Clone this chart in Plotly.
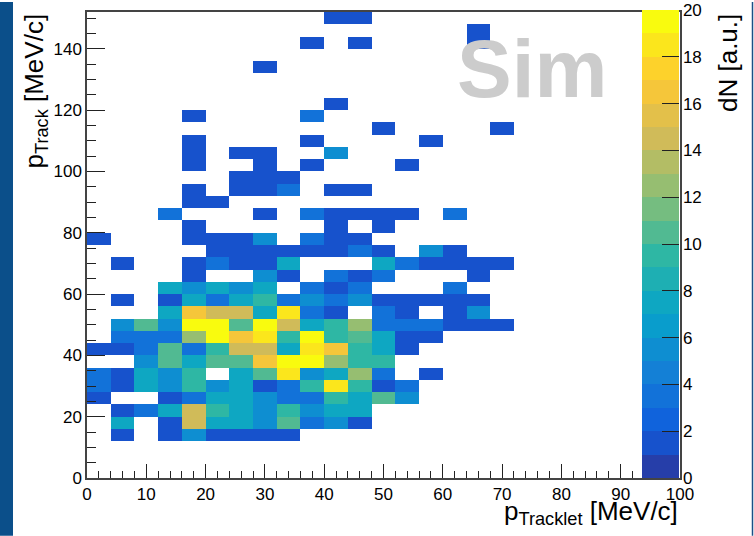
import numpy as np
import plotly.graph_objects as go

FONT = "Liberation Sans, Arial, Helvetica, sans-serif"
W, H = 754, 536
# plot frame in pixels: x 87..680, y 10..478
FL, FR, FT, FB = 87, 680, 10, 478


def px(xp):
    return (xp - FL) / (FR - FL)


def py(yp):
    return (FB - yp) / (FB - FT)


# bin edges in MeV/c
x_edges = list(range(0, 101, 4))    # p_Tracklet
y_edges = list(range(0, 153, 4))    # p_Track

# bin contents, first row = lowest p_Track bin; 0 = empty bin
counts = [
    [0, 0, 0, 0, 0, 0, 0, 0, 0, 0, 0, 0, 0, 0, 0, 0, 0, 0, 0, 0, 0, 0, 0, 0, 0],
    [0, 0, 0, 0, 0, 0, 0, 0, 0, 0, 0, 0, 0, 0, 0, 0, 0, 0, 0, 0, 0, 0, 0, 0, 0],
    [0, 0, 0, 0, 0, 0, 0, 0, 0, 0, 0, 0, 0, 0, 0, 0, 0, 0, 0, 0, 0, 0, 0, 0, 0],
    [0, 1, 0, 1, 5, 1, 1, 1, 1, 0, 0, 0, 0, 0, 0, 0, 0, 0, 0, 0, 0, 0, 0, 0, 0],
    [0, 7, 0, 1, 14, 7, 7, 5, 10, 3, 5, 1, 0, 0, 0, 0, 0, 0, 0, 0, 0, 0, 0, 0, 0],
    [0, 1, 3, 7, 14, 9, 7, 5, 9, 5, 7, 7, 0, 0, 0, 0, 0, 0, 0, 0, 0, 0, 0, 0, 0],
    [1, 0, 0, 1, 3, 7, 7, 5, 3, 3, 9, 7, 10, 5, 0, 0, 0, 0, 0, 0, 0, 0, 0, 0, 0],
    [3, 1, 7, 5, 9, 5, 7, 1, 3, 9, 18, 9, 1, 3, 0, 0, 0, 0, 0, 0, 0, 0, 0, 0, 0],
    [3, 1, 7, 5, 9, 0, 7, 10, 18, 5, 7, 12, 3, 0, 1, 0, 0, 0, 0, 0, 0, 0, 0, 0, 0],
    [0, 0, 5, 10, 7, 10, 10, 16, 19, 19, 12, 9, 9, 0, 0, 0, 0, 0, 0, 0, 0, 0, 0, 0, 0],
    [1, 1, 3, 10, 3, 9, 14, 14, 7, 18, 16, 9, 7, 1, 0, 0, 0, 0, 0, 0, 0, 0, 0, 0, 0],
    [0, 3, 3, 3, 12, 20, 16, 18, 9, 19, 9, 10, 7, 1, 1, 0, 0, 0, 0, 0, 0, 0, 0, 0, 0],
    [0, 5, 10, 5, 19, 19, 10, 19, 14, 7, 9, 12, 3, 3, 3, 1, 1, 1, 0, 0, 0, 0, 0, 0, 0],
    [0, 0, 0, 7, 16, 14, 14, 7, 18, 3, 1, 0, 3, 1, 0, 1, 5, 0, 0, 0, 0, 0, 0, 0, 0],
    [0, 1, 0, 1, 7, 3, 7, 9, 3, 5, 3, 5, 1, 1, 1, 1, 1, 0, 0, 0, 0, 0, 0, 0, 0],
    [0, 0, 0, 7, 5, 7, 5, 7, 0, 3, 1, 3, 0, 0, 0, 3, 0, 0, 0, 0, 0, 0, 0, 0, 0],
    [0, 0, 0, 0, 1, 0, 0, 5, 1, 0, 3, 1, 3, 0, 0, 0, 1, 0, 0, 0, 0, 0, 0, 0, 0],
    [0, 1, 0, 0, 1, 3, 1, 1, 7, 0, 0, 0, 7, 3, 1, 1, 1, 1, 0, 0, 0, 0, 0, 0, 0],
    [0, 0, 0, 0, 0, 1, 1, 1, 1, 1, 1, 3, 1, 0, 5, 1, 0, 0, 0, 0, 0, 0, 0, 0, 0],
    [1, 0, 0, 0, 1, 1, 1, 5, 0, 3, 1, 1, 0, 0, 0, 0, 0, 0, 0, 0, 0, 0, 0, 0, 0],
    [0, 0, 0, 0, 1, 0, 0, 0, 0, 0, 1, 0, 1, 0, 0, 0, 0, 0, 0, 0, 0, 0, 0, 0, 0],
    [0, 0, 0, 3, 0, 0, 0, 1, 0, 3, 1, 1, 1, 1, 0, 3, 0, 0, 0, 0, 0, 0, 0, 0, 0],
    [0, 0, 0, 0, 1, 1, 0, 0, 0, 0, 0, 0, 0, 0, 0, 0, 0, 0, 0, 0, 0, 0, 0, 0, 0],
    [0, 0, 0, 0, 1, 0, 1, 1, 3, 0, 1, 1, 0, 0, 0, 0, 0, 0, 0, 0, 0, 0, 0, 0, 0],
    [0, 0, 0, 0, 0, 0, 1, 1, 1, 0, 0, 0, 0, 0, 0, 0, 0, 0, 0, 0, 0, 0, 0, 0, 0],
    [0, 0, 0, 0, 1, 0, 0, 1, 0, 1, 0, 0, 0, 1, 0, 0, 0, 0, 0, 0, 0, 0, 0, 0, 0],
    [0, 0, 0, 0, 1, 0, 1, 1, 0, 0, 5, 0, 0, 0, 0, 0, 0, 0, 0, 0, 0, 0, 0, 0, 0],
    [0, 0, 0, 0, 1, 0, 0, 0, 0, 1, 0, 0, 0, 0, 1, 0, 0, 0, 0, 0, 0, 0, 0, 0, 0],
    [0, 0, 0, 0, 0, 0, 0, 0, 0, 0, 0, 0, 1, 0, 0, 0, 0, 1, 0, 0, 0, 0, 0, 0, 0],
    [0, 0, 0, 0, 1, 0, 0, 0, 0, 3, 0, 0, 0, 0, 0, 0, 0, 0, 0, 0, 0, 0, 0, 0, 0],
    [0, 0, 0, 0, 0, 0, 0, 0, 0, 0, 1, 0, 0, 0, 0, 0, 0, 0, 0, 0, 0, 0, 0, 0, 0],
    [0, 0, 0, 0, 0, 0, 0, 0, 0, 0, 0, 0, 0, 0, 0, 0, 0, 0, 0, 0, 0, 0, 0, 0, 0],
    [0, 0, 0, 0, 0, 0, 0, 0, 0, 0, 0, 0, 0, 0, 0, 0, 0, 0, 0, 0, 0, 0, 0, 0, 0],
    [0, 0, 0, 0, 0, 0, 0, 1, 0, 0, 0, 0, 0, 0, 0, 0, 0, 0, 0, 0, 0, 0, 0, 0, 0],
    [0, 0, 0, 0, 0, 0, 0, 0, 0, 0, 0, 0, 0, 0, 0, 0, 0, 0, 0, 0, 0, 0, 0, 0, 0],
    [0, 0, 0, 0, 0, 0, 0, 0, 0, 1, 0, 1, 0, 0, 0, 0, 1, 0, 0, 0, 0, 0, 0, 0, 0],
    [0, 0, 0, 0, 0, 0, 0, 0, 0, 0, 0, 0, 0, 0, 0, 0, 1, 0, 0, 0, 0, 0, 0, 0, 0],
    [0, 0, 0, 0, 0, 0, 0, 0, 0, 0, 1, 1, 0, 0, 0, 0, 0, 0, 0, 0, 0, 0, 0, 0, 0],
]

z_min, z_max = 0, 20
cbar_ticks = list(range(0, 21, 2))
x_ticks = list(range(0, 101, 10))
y_ticks = list(range(0, 141, 20))

# ROOT "bird" palette, cut into 20 discrete levels
bird_stops = [0.0, 0.125, 0.25, 0.375, 0.5, 0.625, 0.75, 0.875, 1.0]
bird_r = [0.2082, 0.0592, 0.0780, 0.0232, 0.1802, 0.5301, 0.8186, 0.9956, 0.9764]
bird_g = [0.1664, 0.3599, 0.5041, 0.6419, 0.7178, 0.7492, 0.7328, 0.7862, 0.9832]
bird_b = [0.5293, 0.8684, 0.8385, 0.7914, 0.6425, 0.4662, 0.3499, 0.1968, 0.0539]
n_levels = 20
colorscale = []
for i in range(n_levels):
    f = (i + 0.99) / n_levels
    rgb = [float(np.interp(f, bird_stops, ch)) for ch in (bird_r, bird_g, bird_b)]
    col = "rgb(%d,%d,%d)" % tuple(int(round(255 * v)) for v in rgb)
    lo = 0.0 if i == 0 else i / n_levels - 1e-4
    hi = 1.0 if i == n_levels - 1 else (i + 1) / n_levels - 1e-4
    colorscale += [[lo, col], [hi, col]]

z = [[v if v else None for v in row] for row in counts]

fig = go.Figure()
fig.add_trace(go.Heatmap(
    x=x_edges, y=y_edges, z=z,
    zmin=z_min, zmax=z_max, colorscale=colorscale,
    hoverinfo="skip",
    colorbar=dict(
        x=px(642), xanchor="left", xpad=0,
        y=0, yanchor="bottom", ypad=0,
        thickness=37, thicknessmode="pixels",
        len=FB - FT, lenmode="pixels",
        outlinewidth=0,
        tickmode="array", tickvals=cbar_ticks,
        ticks="inside", ticklen=17, tickwidth=1, tickcolor="#222222",
        tickfont=dict(family=FONT, size=17, color="black"),
    ),
))

axis_common = dict(
    showline=True, linecolor="#444444", linewidth=1.5, mirror=True,
    showgrid=False, zeroline=False,
    ticks="inside", tickcolor="#222222", tickwidth=1,
    tickfont=dict(family=FONT, size=17, color="black"),
)

fig.update_xaxes(
    range=[0, 100], tickmode="array", tickvals=x_ticks, ticklen=14,
    minor=dict(dtick=2, tick0=0, ticklen=7, ticks="inside", tickcolor="#222222", tickwidth=1),
    **axis_common,
)
fig.update_yaxes(
    range=[0, 152], tickmode="array", tickvals=y_ticks, ticklen=18,
    minor=dict(dtick=5, tick0=0, ticklen=9, ticks="inside", tickcolor="#222222", tickwidth=1),
    **axis_common,
)

title_font = dict(family=FONT, size=26, color="black")
annotations = [
    dict(text="p<sub>Tracklet</sub> [MeV/c]", xref="paper", yref="paper",
         x=1.0, xanchor="right", y=py(513), yanchor="middle",
         showarrow=False, font=title_font),
    dict(text="p<sub>Track</sub> [MeV/c]", xref="paper", yref="paper",
         x=px(35), xanchor="center", y=1.0, yanchor="top", textangle=-90,
         showarrow=False, font=title_font),
    dict(text="dN [a.u.]", xref="paper", yref="paper",
         x=px(728), xanchor="center", y=1.0, yanchor="top", textangle=-90,
         showarrow=False, font=title_font),
    dict(text="<b>Sim</b>", xref="paper", yref="paper",
         x=px(455), xanchor="left", y=py(67), yanchor="middle",
         showarrow=False, font=dict(family=FONT, size=82, color="#cccccc")),
]

shapes = [
    dict(type="rect", xref="paper", yref="paper",
         x0=px(0), x1=px(13), y0=py(H), y1=py(0),
         fillcolor="#0b4f8a", line=dict(width=0), layer="below"),
    dict(type="line", xref="paper", yref="paper",
         x0=px(752.5), x1=px(752.5), y0=py(H), y1=py(0),
         line=dict(color="#1b4f86", width=1.5)),
]

fig.update_layout(
    width=W, height=H, autosize=False,
    margin=dict(l=FL, r=W - FR, t=FT, b=H - FB, pad=0),
    paper_bgcolor="white", plot_bgcolor="white",
    showlegend=False,
    annotations=annotations, shapes=shapes,
)

fig.write_html("out.html")
